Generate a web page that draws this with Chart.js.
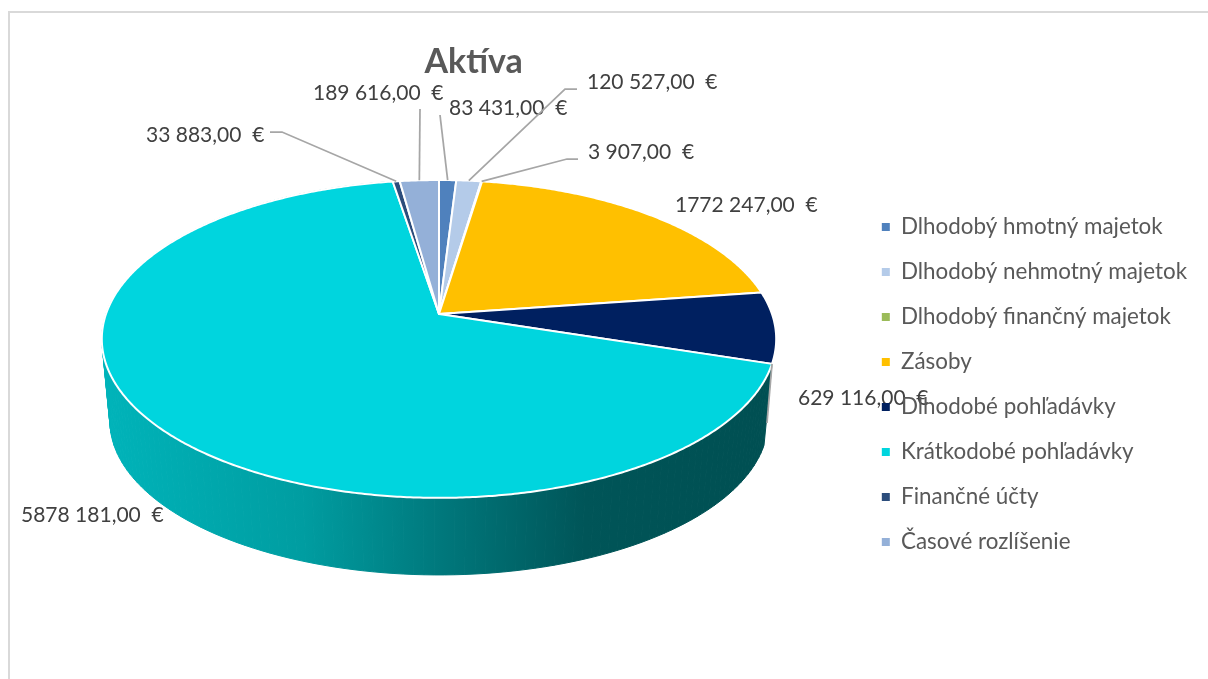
<!DOCTYPE html>
<html lang="sk">
<head>
<meta charset="utf-8">
<title>Aktíva</title>
<script src="https://cdn.jsdelivr.net/npm/chart.js@4"></script>
<style>
    body { margin: 0; background: #fff; overflow: hidden; }
    #frame { position: absolute; left: 8px; top: 11px; width: 1300px; height: 800px; border: 2px solid #d9d9d9; }
    #aktivaChart { position: absolute; left: 0; top: 0; }
</style>
</head>
<body>
<div id="frame"></div>
<canvas id="aktivaChart" width="1208" height="679"></canvas>
<script>
// =======================================================
// Data
// =======================================================

const categories = [
    "Dlhodobý hmotný majetok",
    "Dlhodobý nehmotný majetok",
    "Dlhodobý finančný majetok",
    "Zásoby",
    "Dlhodobé pohľadávky",
    "Krátkodobé pohľadávky",
    "Finančné účty",
    "Časové rozlíšenie"
];

const values = [83431, 120527, 3907, 1772247, 629116, 5878181, 33883, 189616];

const colors = ["#4f81bd", "#b4cbe9", "#9bbb59", "#ffc000", "#002060", "#00d5de", "#2c4d7c", "#94b0d8"];

// =======================================================
// Pie look: a tilted disc seen in perspective
// =======================================================

const topFace = { cx: 439, cy: 314, rx: 333, ry: 155 };
const bottomFace = { cx: 439, cy: 397, rx: 325, ry: 150 };
const tilt = 0.157;

// anchor of each value label (left, middle) and the start of its leader line
const labelSpots = [
    { x: 449, y: 108, from: [[440, 115]] },
    { x: 587, y: 82, from: [[577, 89], [565, 89]] },
    { x: 588, y: 152, from: [[578, 159], [567, 159]] },
    { x: 675, y: 205 },
    { x: 798, y: 398, from: [[767, 423]], edge: true },
    { x: 21, y: 515 },
    { x: 146, y: 135, from: [[270, 132], [282, 132]] },
    { x: 313, y: 93, from: [[420, 109]] }
];

function project(face, angle) {
    const u = Math.cos(angle);
    const v = Math.sin(angle);
    const d = 1 - tilt * v;
    return [face.cx + face.rx * u / d, face.cy + face.ry * v / d];
}

function euro(value) {
    const whole = String(value);
    const head = whole.slice(0, -3);
    return (head ? head + " " : "") + whole.slice(-3) + ",00  €";
}

function drawWall(ctx, arc) {
    const shade = ctx.createLinearGradient(102, 0, 772, 0);
    shade.addColorStop(0, "#00b4ba");
    shade.addColorStop(0.3, "#009da1");
    shade.addColorStop(0.5, "#00797d");
    shade.addColorStop(0.72, "#005558");
    shade.addColorStop(1, "#004f52");
    ctx.fillStyle = shade;
    ctx.strokeStyle = shade;
    ctx.lineWidth = 1;
    const stop = Math.min(arc.endAngle, Math.PI * 1.6);
    const steps = 160;
    for (let i = 0; i < steps; i++) {
        const a = arc.startAngle + (stop - arc.startAngle) * i / steps;
        const b = arc.startAngle + (stop - arc.startAngle) * (i + 1) / steps;
        const p = [project(topFace, a), project(topFace, b), project(bottomFace, b), project(bottomFace, a)];
        ctx.beginPath();
        ctx.moveTo(p[0][0], p[0][1]);
        p.slice(1).forEach(q => ctx.lineTo(q[0], q[1]));
        ctx.closePath();
        ctx.fill();
        ctx.stroke();
    }
}

function drawSlice(ctx, arc, color) {
    ctx.beginPath();
    ctx.moveTo(topFace.cx, topFace.cy);
    const steps = Math.max(2, Math.ceil((arc.endAngle - arc.startAngle) * 120));
    for (let i = 0; i <= steps; i++) {
        const p = project(topFace, arc.startAngle + (arc.endAngle - arc.startAngle) * i / steps);
        ctx.lineTo(p[0], p[1]);
    }
    ctx.closePath();
    ctx.fillStyle = color;
    ctx.fill();
    ctx.strokeStyle = "#fff";
    ctx.lineWidth = 2;
    ctx.lineJoin = "round";
    ctx.stroke();
}

const pie3d = {
    id: "pie3d",
    beforeDraw(chart) {
        const ctx = chart.ctx;
        ctx.save();
        ctx.font = "21px Lato";
        ctx.fillStyle = "#404040";
        ctx.textBaseline = "middle";
        ctx.textAlign = "left";
        values.forEach((value, i) => ctx.fillText(euro(value), labelSpots[i].x, labelSpots[i].y));
        ctx.restore();
    },
    beforeDatasetsDraw(chart) {
        const ctx = chart.ctx;
        const arcs = chart.getDatasetMeta(0).data;
        ctx.save();
        drawWall(ctx, arcs[values.indexOf(Math.max(...values))]);
        arcs.forEach((arc, i) => drawSlice(ctx, arc, colors[i]));
        ctx.restore();
        return false;
    },
    afterDraw(chart) {
        const ctx = chart.ctx;
        const arcs = chart.getDatasetMeta(0).data;
        ctx.save();
        ctx.strokeStyle = "#a6a6a6";
        ctx.lineWidth = 1.75;
        labelSpots.forEach((spot, i) => {
            if (!spot.from) return;
            const arc = arcs[i];
            const end = project(topFace, spot.edge ? arc.endAngle : (arc.startAngle + arc.endAngle) / 2);
            ctx.beginPath();
            spot.from.forEach((p, k) => k ? ctx.lineTo(p[0], p[1]) : ctx.moveTo(p[0], p[1]));
            ctx.lineTo(end[0], end[1]);
            ctx.stroke();
        });
        ctx.restore();
    }
};

// =======================================================
// Chart
// =======================================================

new Chart(document.getElementById("aktivaChart"), {
    type: "pie",
    data: {
        labels: categories,
        datasets: [{
            data: values,
            backgroundColor: colors,
            borderWidth: 0
        }]
    },
    plugins: [pie3d],
    options: {
        responsive: false,
        animation: false,
        events: [],
        layout: { padding: { left: 88, right: 11, top: 0, bottom: 0 } },
        plugins: {
            title: {
                display: true,
                text: "Aktíva",
                fullSize: false,
                color: "#595959",
                font: { family: "Lato", size: 34, weight: "bold" },
                padding: { top: 42, bottom: 7 }
            },
            legend: {
                position: "right",
                fullSize: false,
                labels: {
                    boxWidth: 8,
                    boxHeight: 8,
                    padding: 22.6,
                    color: "#595959",
                    font: { family: "Lato", size: 22.4 }
                }
            },
            tooltip: { enabled: false }
        }
    }
});
</script>
</body>
</html>
